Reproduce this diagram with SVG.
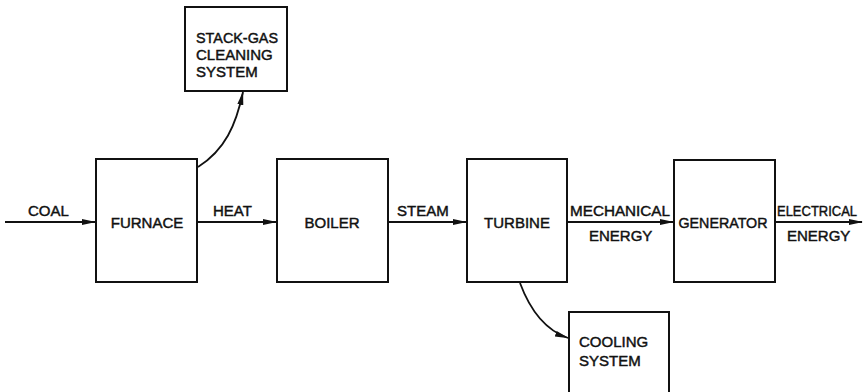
<svg xmlns="http://www.w3.org/2000/svg" width="864" height="392" viewBox="0 0 864 392">
<style>
.box{fill:#fff;stroke:#111;stroke-width:2}
.t{font-family:"Liberation Sans",Arial,sans-serif;font-size:15px;fill:#111;stroke:#111;stroke-width:0.45}
.c{stroke:#111;stroke-width:1.8;fill:none}
</style>
<defs>
<marker id="ah" markerWidth="14" markerHeight="8" refX="13" refY="4" orient="auto" markerUnits="userSpaceOnUse">
<path d="M0,1 L14,4 L0,7 Z" fill="#111"/>
</marker>
</defs>
<g id="connectors">
<path class="c" d="M5,222 L95,222" marker-end="url(#ah)"/>
<path class="c" d="M198,222 L276,222" marker-end="url(#ah)"/>
<path class="c" d="M389,222 L466,222" marker-end="url(#ah)"/>
<path class="c" d="M568,222 L673,222" marker-end="url(#ah)"/>
<path class="c" d="M776,222 L862,222" marker-end="url(#ah)"/>
<path class="c" d="M198,167 C225,150 236,125 243,92" marker-end="url(#ah)"/>
<path class="c" d="M520,283 C530,310 545,330 568,338" marker-end="url(#ah)"/>
<text class="t" x="28" y="216">COAL</text>
<text class="t" x="213" y="216">HEAT</text>
<text class="t" x="397" y="216">STEAM</text>
<text class="t" x="570" y="216" textLength="100" lengthAdjust="spacingAndGlyphs">MECHANICAL</text>
<text class="t" x="589" y="241">ENERGY</text>
<text class="t" x="777" y="216" textLength="80" lengthAdjust="spacingAndGlyphs">ELECTRICAL</text>
<text class="t" x="787" y="241">ENERGY</text>
</g>
<g id="stack">
<rect class="box" x="185" y="7" width="102" height="84"/>
<text class="t" x="196" y="43" textLength="82" lengthAdjust="spacingAndGlyphs">STACK-GAS</text>
<text class="t" x="196" y="60">CLEANING</text>
<text class="t" x="196" y="77">SYSTEM</text>
</g>
<g id="furnace">
<rect class="box" x="96" y="159" width="101" height="123"/>
<text class="t" x="147" y="228" text-anchor="middle">FURNACE</text>
</g>
<g id="boiler">
<rect class="box" x="277" y="159" width="111" height="123"/>
<text class="t" x="332" y="228" text-anchor="middle">BOILER</text>
</g>
<g id="turbine">
<rect class="box" x="467" y="159" width="100" height="123"/>
<text class="t" x="517" y="228" text-anchor="middle">TURBINE</text>
</g>
<g id="generator">
<rect class="box" x="674" y="160" width="101" height="122"/>
<text class="t" x="723" y="228" text-anchor="middle" textLength="89" lengthAdjust="spacingAndGlyphs">GENERATOR</text>
</g>
<g id="cooling">
<path class="box" d="M569,395 L569,312 L669,312 L669,395"/>
<text class="t" x="579" y="347">COOLING</text>
<text class="t" x="579" y="366">SYSTEM</text>
</g>
</svg>
